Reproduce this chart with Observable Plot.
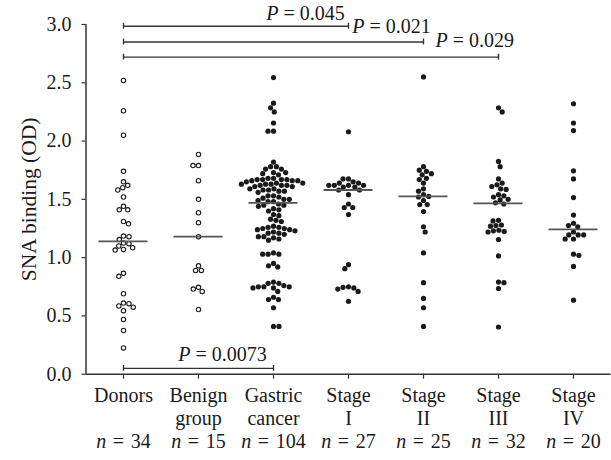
<!DOCTYPE html>
<html>
<head>
<meta charset="utf-8">
<script src="https://cdn.jsdelivr.net/npm/d3@7"></script>
<script src="https://cdn.jsdelivr.net/npm/@observablehq/plot@0.6"></script>
<style>
  html, body { margin: 0; padding: 0; background: #fff; }
  #chart { width: 611px; height: 460px; }
</style>
</head>
<body>
<div id="chart"></div>
<script>
// ---------- data ----------
const categories = ["Donors", "Benign group", "Gastric cancer", "Stage I", "Stage II", "Stage III", "Stage IV"];
const labelLine1 = ["Donors", "Benign", "Gastric", "Stage", "Stage", "Stage", "Stage"];
const labelLine2 = ["", "group", "cancer", "I", "II", "III", "IV"];
const labelN = ["34", "15", "104", "27", "25", "32", "20"];
const openGroups = ["Donors", "Benign group"];

const donors = [2.52, 2.26, 2.05, 1.74, 1.65, 1.62, 1.60, 1.58, 1.52, 1.44, 1.41, 1.41, 1.31, 1.29,
  1.185, 1.18, 1.155, 1.125, 1.12, 1.10, 1.085, 1.07, 1.065, 0.865, 0.84, 0.69,
  0.61, 0.605, 0.585, 0.575, 0.545, 0.47, 0.375, 0.225];
const benign = [1.885, 1.79, 1.79, 1.66, 1.50, 1.385, 1.30, 1.18, 0.93, 0.89, 0.89, 0.745, 0.73, 0.71, 0.555];
const gastric = [2.545, 2.325, 2.285, 2.25, 2.155, 2.085, 2.085,
  1.82, 1.78, 1.78, 1.76, 1.76, 1.73, 1.73, 1.72, 1.71,
  1.68, 1.68, 1.67, 1.67, 1.67, 1.67, 1.66, 1.66, 1.66, 1.65,
  1.64, 1.64, 1.63, 1.63, 1.63, 1.62, 1.62, 1.62, 1.61, 1.61,
  1.59, 1.59, 1.58, 1.58, 1.57, 1.57, 1.56,
  1.53, 1.53, 1.52, 1.51, 1.50, 1.50, 1.49, 1.48, 1.48,
  1.46, 1.45, 1.45, 1.44, 1.42, 1.41, 1.40,
  1.37, 1.36, 1.33, 1.32, 1.31,
  1.27, 1.26, 1.26, 1.25, 1.25, 1.24, 1.24, 1.23, 1.22, 1.21, 1.21, 1.20,
  1.18, 1.18, 1.17, 1.16, 1.15,
  1.04, 1.03, 1.03, 1.03, 0.95, 0.93, 0.92,
  0.79, 0.78, 0.78, 0.76, 0.75, 0.75, 0.75, 0.74, 0.74, 0.71,
  0.66, 0.64, 0.64, 0.57, 0.41, 0.41];
const stage1 = [2.08, 1.675, 1.675, 1.65, 1.64, 1.64, 1.62, 1.62, 1.62, 1.62, 1.605, 1.605, 1.58, 1.58,
  1.54, 1.46, 1.43, 1.43, 1.37, 0.94, 0.905, 0.75, 0.745, 0.74, 0.73, 0.71, 0.625];
const stage2 = [2.55, 1.78, 1.75, 1.74, 1.72, 1.71, 1.68, 1.67, 1.64, 1.59, 1.57, 1.54, 1.525, 1.52,
  1.49, 1.455, 1.455, 1.395, 1.265, 1.22, 1.04, 0.785, 0.65, 0.57, 0.41];
const stage3 = [2.285, 2.25, 1.825, 1.78, 1.675, 1.64, 1.625, 1.61, 1.59, 1.585, 1.54, 1.53, 1.52, 1.50,
  1.495, 1.47, 1.46, 1.32, 1.315, 1.28, 1.275, 1.27, 1.235, 1.23, 1.225, 1.22, 1.155, 1.015,
  0.79, 0.785, 0.735, 0.405];
const stage4 = [2.32, 2.155, 2.09, 1.745, 1.675, 1.515, 1.365, 1.295, 1.275, 1.265, 1.22, 1.195, 1.195,
  1.195, 1.16, 1.16, 1.03, 1.02, 0.925, 0.635];
const seriesValues = [donors, benign, gastric, stage1, stage2, stage3, stage4];

// significance brackets: from/to are category indexes
const bracketFrom = [0, 0, 0, 0];
const bracketTo = [3, 4, 5, 2];
const bracketY = [2.985, 2.85, 2.72, 0.05];
const pLabels = ["P = 0.045", "P = 0.021", "P = 0.029", "P = 0.0073"];
const pLabelX = [2.95, 3.05, 4.16, 1.32];
const pLabelY = [3.09, 2.985, 2.865, 0.165];
const pLabelAnchor = ["end", "start", "start", "middle"];

const yTicks = [0, 0.5, 1, 1.5, 2, 2.5, 3];

// ---------- layout ----------
const W = 611, H = 460;
const mL = 85.5, mR = 0.5, mT = 24, mB = 86.3;
const pxPerY = (H - mT - mB) / 3;
const step = (W - mL - mR) / categories.length;
const FONT = "'Liberation Serif', 'Times New Roman', serif";
const INK = "#1a1a1a";
const AXIS = "#333";

// beeswarm offsets (pixels) so dots do not overlap
function swarm(values, D) {
  const order = d3.range(values.length).sort((a, b) => values[b] - values[a]);
  const placed = [];
  const off = new Array(values.length);
  let flip = 1;
  for (const i of order) {
    const yi = values[i] * pxPerY;
    const ints = [];
    for (const p of placed) {
      const dy = Math.abs(p.y - yi);
      if (dy < D) { const w = Math.sqrt(D * D - dy * dy); ints.push([p.x - w, p.x + w]); }
    }
    const cands = [0];
    for (const [a, b] of ints) cands.push(a, b);
    cands.sort((a, b) => Math.abs(a) - Math.abs(b) || (flip * (a - b)));
    let x = 0;
    for (const c of cands) {
      if (ints.every(([a, b]) => c <= a + 1e-6 || c >= b - 1e-6)) { x = c; break; }
    }
    flip = -flip;
    placed.push({x, y: yi});
    off[i] = x;
  }
  return off;
}

const rows = [];
seriesValues.forEach((vals, gi) => {
  const off = swarm(vals, 5.5);
  vals.forEach((v, k) => rows.push({
    gi, group: categories[gi], y: v, x: gi + off[k] / step,
    open: openGroups.includes(categories[gi])
  }));
});
const medians = seriesValues.map((vals, gi) => ({gi, m: d3.median(vals)}));
const brackets = bracketFrom.map((f, i) => ({from: f, to: bracketTo[i], y: bracketY[i]}));
const caps = brackets.flatMap(b => [{x: b.from, y: b.y}, {x: b.to, y: b.y}]);
const pText = pLabels.map((t, i) => ({t, x: pLabelX[i], y: pLabelY[i], a: pLabelAnchor[i]}));
const idx = d3.range(categories.length);
const pMark = (anchor) => Plot.text(pText.filter(d => d.a === anchor),
  {x: "x", y: "y", text: "t", textAnchor: anchor, fontSize: 20, fill: INK, lineAnchor: "middle"});

const chart = Plot.plot({
  width: W, height: H,
  marginLeft: mL, marginRight: mR, marginTop: mT, marginBottom: mB,
  style: {fontFamily: FONT, fontSize: "20px", background: "#fff", color: INK},
  x: {domain: [-0.5, categories.length - 0.5]},
  y: {domain: [0, 3]},
  marks: [
    Plot.axisY({ticks: yTicks, tickFormat: d3.format(".1f"), tickSize: 4, tickPadding: 10.5,
      label: null, fontSize: 20, stroke: AXIS, strokeWidth: 1.2}),
    Plot.axisX({ticks: idx, tickSize: 5, tickFormat: () => "", label: null, stroke: AXIS, strokeWidth: 1.2}),
    Plot.ruleX([-0.5], {y1: 0, y2: 3, stroke: AXIS, strokeWidth: 1.5}),
    Plot.ruleY([0], {stroke: AXIS, strokeWidth: 1.5}),
    Plot.dot(rows.filter(d => !d.open), {x: "x", y: "y", r: 2.6, fill: INK, stroke: "none"}),
    Plot.dot(rows.filter(d => d.open), {x: "x", y: "y", r: 2.2, fill: "#fff", stroke: INK, strokeWidth: 1.1}),
    Plot.ruleY(medians, {y: "m", x1: d => d.gi - 0.327, x2: d => d.gi + 0.327, stroke: "#555", strokeWidth: 1.8}),
    Plot.ruleY(brackets, {y: "y", x1: "from", x2: "to", stroke: AXIS, strokeWidth: 1.4}),
    Plot.ruleX(caps, {x: "x", y1: d => d.y - 0.025, y2: d => d.y + 0.025, stroke: AXIS, strokeWidth: 1.4}),
    pMark("end"),
    pMark("start"),
    pMark("middle"),
    Plot.text(idx, {x: d => d, text: d => labelLine1[d], frameAnchor: "bottom", dy: 21.5, lineAnchor: "middle", fontSize: 20, fill: INK}),
    Plot.text(idx, {x: d => d, text: d => labelLine2[d], frameAnchor: "bottom", dy: 44.5, lineAnchor: "middle", fontSize: 20, fill: INK}),
    Plot.text(idx, {x: d => d, text: d => "n\u2004=\u2004" + labelN[d], frameAnchor: "bottom", dy: 67.5, lineAnchor: "middle", fontSize: 20, fill: INK}),
    Plot.text(["SNA binding (OD)"], {frameAnchor: "left", rotate: -90, dx: -57, textAnchor: "middle",
      lineAnchor: "middle", fontSize: 21.5, fill: INK})
  ]
});

// italicise the statistic symbols (P, n)
chart.querySelectorAll("text").forEach(t => {
  const s = t.textContent;
  const m = /^([Pn])([\s\u2004]=[\s\u2004].+)$/.exec(s);
  if (m && t.children.length === 0) {
    t.textContent = "";
    const a = document.createElementNS("http://www.w3.org/2000/svg", "tspan");
    a.setAttribute("font-style", "italic");
    a.textContent = m[1];
    const b = document.createElementNS("http://www.w3.org/2000/svg", "tspan");
    b.textContent = m[2];
    t.append(a, b);
  }
});
document.getElementById("chart").appendChild(chart);
</script>
</body>
</html>
